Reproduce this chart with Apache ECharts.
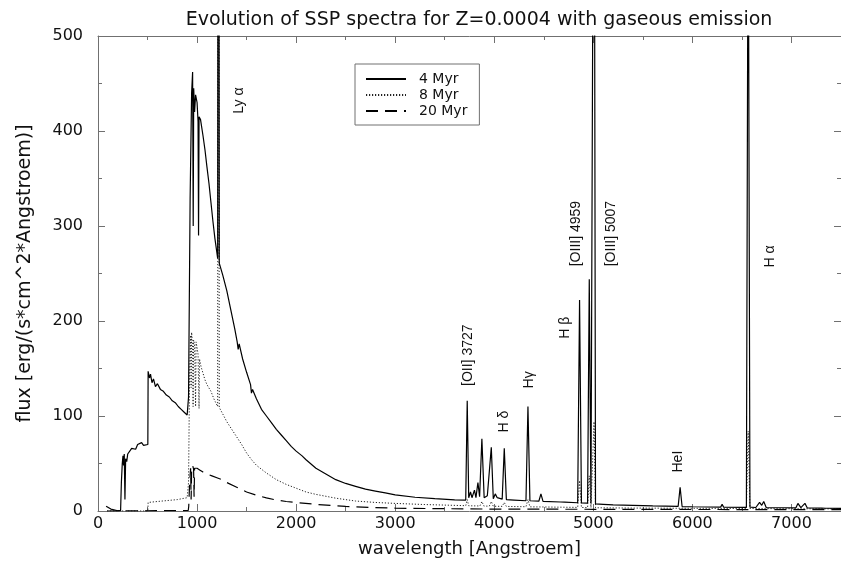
<!DOCTYPE html>
<html>
<head>
<meta charset="utf-8">
<script src="https://cdn.jsdelivr.net/npm/echarts@6/dist/echarts.min.js"></script>
<style>
  html, body { margin: 0; padding: 0; background: #fff; }
  #main { width: 841px; height: 563px; }
</style>
</head>
<body>
<div id="main"></div>
<script>
// Simple stellar population spectra, Z = 0.0004, wavelength [Angstroem] vs flux
const flux4Myr = [
  [82, 5], [130, 2], [200, 0.3], [228, 0.3], [236, 30], [245, 50], [252, 58], [258, 48], [265, 60],
  [272, 12], [279, 55], [290, 52], [300, 60], [320, 62], [340, 66], [360, 68], [380, 65], [400, 70],
  [420, 68], [440, 72], [460, 69], [480, 71], [503, 70], [506, 147], [520, 140], [530, 144], [545, 135],
  [560, 139], [580, 131], [600, 134], [630, 128], [660, 126], [690, 122], [720, 120], [750, 116],
  [780, 114], [810, 110], [840, 107], [870, 104], [900, 101], [911, 100], [914, 120], [930, 330],
  [945, 440], [955, 462], [961, 300], [966, 445], [975, 420], [985, 438], [1000, 430], [1010, 410],
  [1015, 290], [1020, 415], [1035, 412], [1060, 395], [1080, 380], [1100, 362], [1120, 345],
  [1140, 325], [1160, 305], [1180, 287], [1200, 272], [1208, 266], [1216, 1500], [1224, 261],
  [1260, 248], [1300, 232], [1340, 212], [1380, 192], [1405, 178], [1415, 170], [1425, 176],
  [1460, 160], [1500, 146], [1540, 133], [1549, 124], [1560, 128], [1600, 118], [1650, 107],
  [1700, 100], [1750, 93], [1800, 86], [1850, 80], [1900, 74], [1950, 68], [2000, 63], [2060, 58],
  [2100, 54], [2200, 45], [2300, 39], [2400, 33], [2500, 29], [2600, 26], [2700, 23], [2800, 21],
  [2900, 19], [3000, 17], [3200, 14.5], [3400, 13], [3600, 11.8], [3712, 11.5],
  [3727, 116], [3742, 14], [3760, 20], [3775, 14], [3800, 22], [3815, 14], [3835, 30], [3852, 15],
  [3875, 76], [3898, 14], [3930, 16], [3950, 14], [3970, 67], [3990, 13], [4010, 18], [4030, 14],
  [4080, 12.5], [4101, 66], [4122, 12], [4200, 11.5], [4320, 10.8], [4340, 110], [4360, 10.8],
  [4450, 10.3], [4471, 18], [4492, 10.2], [4670, 9.5], [4690, 11], [4710, 9.3], [4842, 8.7],
  [4861, 222], [4880, 8.5], [4942, 8.3], [4959, 244], [4976, 8.2], [4992, 8], [5007, 900], [5022, 7.4],
  [5100, 7], [5200, 6.5], [5400, 5.9], [5600, 5.3], [5856, 4.8], [5876, 25], [5896, 4.7], [6000, 4.5],
  [6285, 4.1], [6300, 7], [6315, 4.1], [6545, 3.8], [6563, 700], [6581, 4], [6640, 3.7], [6678, 9],
  [6700, 6], [6720, 10], [6745, 3.6], [6900, 3.4], [7045, 3.3], [7065, 8], [7095, 3.6], [7115, 3.3],
  [7136, 8], [7160, 3.2], [7305, 3], [7325, 5], [7345, 2.9], [7500, 2.7]
];

const flux8Myr = [
  [91, 0], [503, 0], [506, 9], [600, 10], [700, 11], [800, 12], [900, 14], [911, 15], [914, 30],
  [925, 150], [935, 185], [940, 130], [945, 188], [955, 172], [960, 110], [965, 180], [975, 175],
  [985, 110], [990, 178], [1000, 172], [1010, 165], [1020, 108], [1025, 160], [1040, 152],
  [1060, 145], [1080, 138], [1100, 133], [1140, 126], [1170, 118], [1208, 110], [1216, 1200],
  [1224, 109], [1260, 102], [1300, 94], [1350, 86], [1400, 78], [1450, 70], [1500, 61], [1550, 54],
  [1600, 48], [1650, 44], [1700, 40], [1800, 33], [1900, 28], [2000, 24], [2100, 20], [2200, 17.5],
  [2400, 13.5], [2600, 10.5], [2800, 9], [3000, 8], [3300, 6.8], [3712, 5.6], [3727, 12], [3742, 5.5],
  [3855, 5.3], [3875, 10], [3895, 5.2], [3950, 5.1], [3970, 10], [3990, 5], [4080, 4.9], [4101, 9],
  [4122, 4.8], [4320, 4.5], [4340, 12], [4360, 4.4], [4842, 3.8], [4861, 32], [4880, 3.7],
  [4942, 3.6], [4959, 37], [4976, 3.6], [4992, 3.5], [5007, 94], [5022, 3.4], [5400, 3.1],
  [5856, 2.9], [5876, 4.5], [5896, 2.9], [6545, 2.6], [6563, 84], [6581, 2.6], [7000, 2.4], [7500, 2.2]
];

const flux20Myr = [
  [91, 0], [911, 0.5], [916, 5], [925, 30], [935, 45], [940, 12], [945, 42], [955, 48], [965, 44],
  [970, 15], [975, 45], [990, 47], [1000, 45], [1010, 44], [1030, 43], [1060, 41], [1100, 39],
  [1150, 37], [1200, 35], [1250, 33], [1300, 30], [1400, 25], [1500, 20], [1600, 16.5], [1700, 13.8],
  [1800, 11.5], [1900, 10], [2000, 9], [2200, 7], [2500, 4.8], [2800, 3.6], [3000, 3], [3500, 2.4],
  [4000, 2], [5000, 1.8], [6000, 1.6], [7500, 1.4]
];

const seriesNames = ['4 Myr', '8 Myr', '20 Myr'];
const xTicks = { min: 0, max: 7500, step: 1000 };
const yTicks = { min: 0, max: 500, step: 100 };

// Emission line identifications, anchored at [wavelength, flux]
const lineLabels = [
  { text: 'Ly α', wl: 1422, flux: 432 },
  { text: '[OII] 3727', wl: 3734, flux: 164 },
  { text: 'H δ', wl: 4095, flux: 94 },
  { text: 'Hγ', wl: 4357, flux: 138 },
  { text: 'H β', wl: 4719, flux: 193 },
  { text: '[OIII] 4959', wl: 4829, flux: 292 },
  { text: '[OIII] 5007', wl: 5181, flux: 292 },
  { text: 'HeI', wl: 5854, flux: 52 },
  { text: 'H α', wl: 6789, flux: 268 }
];

const frameColor = '#707070';
const tickFont = {
  fontFamily: 'DejaVu Sans', fontSize: 16, color: '#111',
  formatter: function (v) { return String(v); }
};

function frameAxis(extra) {
  return Object.assign({
    type: 'value',
    axisLine: { show: true, onZero: false, lineStyle: { color: frameColor, width: 1 } },
    axisTick: { show: true, inside: true, length: 7, lineStyle: { color: frameColor } },
    minorTick: { show: true, splitNumber: 2, length: 4, lineStyle: { color: frameColor } },
    splitLine: { show: false },
    minorSplitLine: { show: false }
  }, extra);
}

const chart = echarts.init(document.getElementById('main'), null, { renderer: 'canvas' });

const option = {
  animation: false,
  backgroundColor: '#fff',
  title: {
    text: 'Evolution of SSP spectra for Z=0.0004 with gaseous emission',
    left: 474,
    textAlign: 'center',
    top: 6,
    textStyle: { fontFamily: 'DejaVu Sans', fontSize: 19, fontWeight: 'normal', color: '#111' }
  },
  grid: { left: 98, right: -4, top: 36, bottom: 51 },
  legend: {
    orient: 'vertical',
    left: 355,
    top: 64,
    data: seriesNames,
    itemWidth: 40,
    itemHeight: 14,
    itemGap: 2,
    padding: [8, 12, 7, 10],
    borderColor: frameColor,
    borderWidth: 1,
    itemStyle: { opacity: 0, borderWidth: 0 },
    textStyle: { fontFamily: 'DejaVu Sans', fontSize: 14, color: '#111', padding: [0, 0, 0, 8] }
  },
  xAxis: [
    frameAxis({
      min: xTicks.min, max: xTicks.max, interval: xTicks.step, position: 'bottom',
      name: 'wavelength [Angstroem]', nameLocation: 'middle', nameGap: 29,
      nameTextStyle: { fontFamily: 'DejaVu Sans', fontSize: 18, color: '#111', verticalAlign: 'top' },
      axisLabel: Object.assign({ margin: 5, showMaxLabel: false }, tickFont)
    }),
    frameAxis({
      min: xTicks.min, max: xTicks.max, interval: xTicks.step, position: 'top',
      axisLabel: { show: false }
    })
  ],
  yAxis: [
    frameAxis({
      min: yTicks.min, max: yTicks.max, interval: yTicks.step, position: 'left',
      name: 'flux [erg/(s*cm^2*Angstroem)]', nameLocation: 'middle', nameGap: 63, nameRotate: 90,
      nameTextStyle: { fontFamily: 'DejaVu Sans', fontSize: 19, color: '#111' },
      axisLabel: Object.assign({ margin: 15 }, tickFont)
    }),
    frameAxis({
      min: yTicks.min, max: yTicks.max, interval: yTicks.step, position: 'right',
      axisLabel: { show: false }
    })
  ],
  series: [
    {
      name: seriesNames[0], type: 'line', data: flux4Myr, showSymbol: false, symbol: 'none',
      clip: true, z: 3,
      lineStyle: { color: '#000', width: 1.2, type: 'solid' }, itemStyle: { color: '#000' }
    },
    {
      name: seriesNames[1], type: 'line', data: flux8Myr, showSymbol: false, symbol: 'none',
      clip: true, z: 2,
      lineStyle: { color: '#222', width: 1, type: [1.2, 1.8] }, itemStyle: { color: '#222' }
    },
    {
      name: seriesNames[2], type: 'line', data: flux20Myr, showSymbol: false, symbol: 'none',
      clip: true, z: 2,
      lineStyle: { color: '#000', width: 1.2, type: [12, 7] }, itemStyle: { color: '#000' }
    }
  ]
};

chart.setOption(option);

// Rotated identifications placed through the cartesian coordinate system
const labelGraphics = lineLabels.map(function (l) {
  const p = chart.convertToPixel({ xAxisIndex: 0, yAxisIndex: 0 }, [l.wl, l.flux]);
  return {
    type: 'text',
    x: p[0], y: p[1],
    rotation: Math.PI / 2,
    z: 10,
    style: {
      text: l.text, fill: '#111',
      fontFamily: 'Liberation Sans', fontSize: 14,
      align: 'center', verticalAlign: 'middle'
    }
  };
});
chart.setOption({ graphic: labelGraphics });
</script>
</body>
</html>
